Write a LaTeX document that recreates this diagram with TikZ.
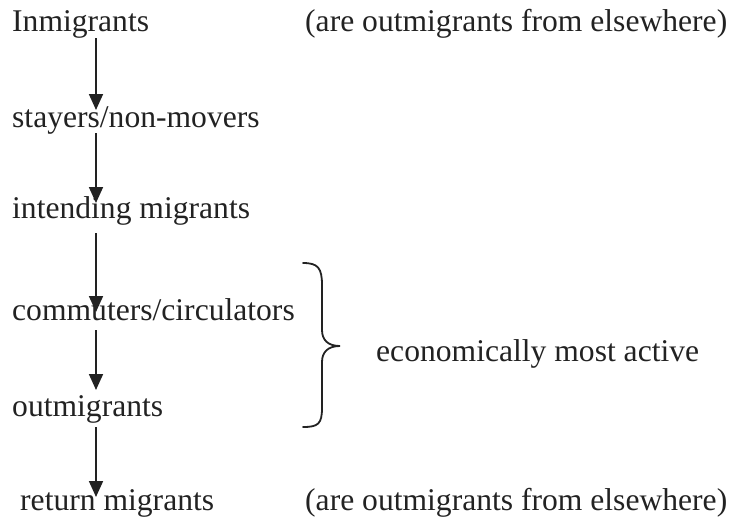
\documentclass[tikz,border=0pt]{standalone}
\usepackage{fontspec}
\setmainfont{Liberation Serif}
\usetikzlibrary{arrows.meta}
\definecolor{ink}{HTML}{222222}
\begin{document}
\begin{tikzpicture}[x=1pt,y=-1pt,
  lbl/.style={anchor=base west,inner sep=0pt,text=ink,font=\fontsize{31.6}{38}\selectfont},
  arr/.style={draw=ink,line width=1.8pt,-{Triangle[width=14pt,length=16pt]}},
  brace/.style={draw=ink,line width=1.8pt,line cap=round}]
\useasboundingbox (0,0) rectangle (733,520);
\coordinate (ax) at (96,0);
\node[lbl] (in)  at (12,31)  {Inmigrants};
\node[lbl] (st)  at (12,127) {stayers/non-movers};
\node[lbl] (it)  at (12,218) {intending migrants};
\node[lbl] (co)  at (12,320) {commuters/circulators};
\node[lbl] (ou)  at (12,416) {outmigrants};
\node[lbl] (re)  at (20,510) {return migrants};
\node[lbl] (n1)  at (305,31)  {(are outmigrants from elsewhere)};
\node[lbl] (n2)  at (305,510) {(are outmigrants from elsewhere)};
\node[lbl] (ec)  at (376,361) {economically most active};
\draw[arr] ([yshift=-7pt]in.base -| ax) -- ([yshift=17pt]st.base -| ax);
\draw[arr] ([yshift=-6pt]st.base -| ax) -- ([yshift=15pt]it.base -| ax);
\draw[arr] ([yshift=-15pt]it.base -| ax) -- ([yshift=8pt]co.base -| ax);
\draw[arr] ([yshift=-10pt]co.base -| ax) -- ([yshift=26pt]ou.base -| ax);
\draw[arr] ([yshift=-11pt]ou.base -| ax) -- ([yshift=13pt]re.base -| ax);
\draw[brace] (303,263) .. controls (318,263) and (322,268) .. (322,285) -- (322,330)
  .. controls (322,340) and (328,346) .. (340,346)
  .. controls (328,346) and (322,352) .. (322,362) -- (322,408)
  .. controls (322,424) and (318,427) .. (303,427);
\end{tikzpicture}
\end{document}
